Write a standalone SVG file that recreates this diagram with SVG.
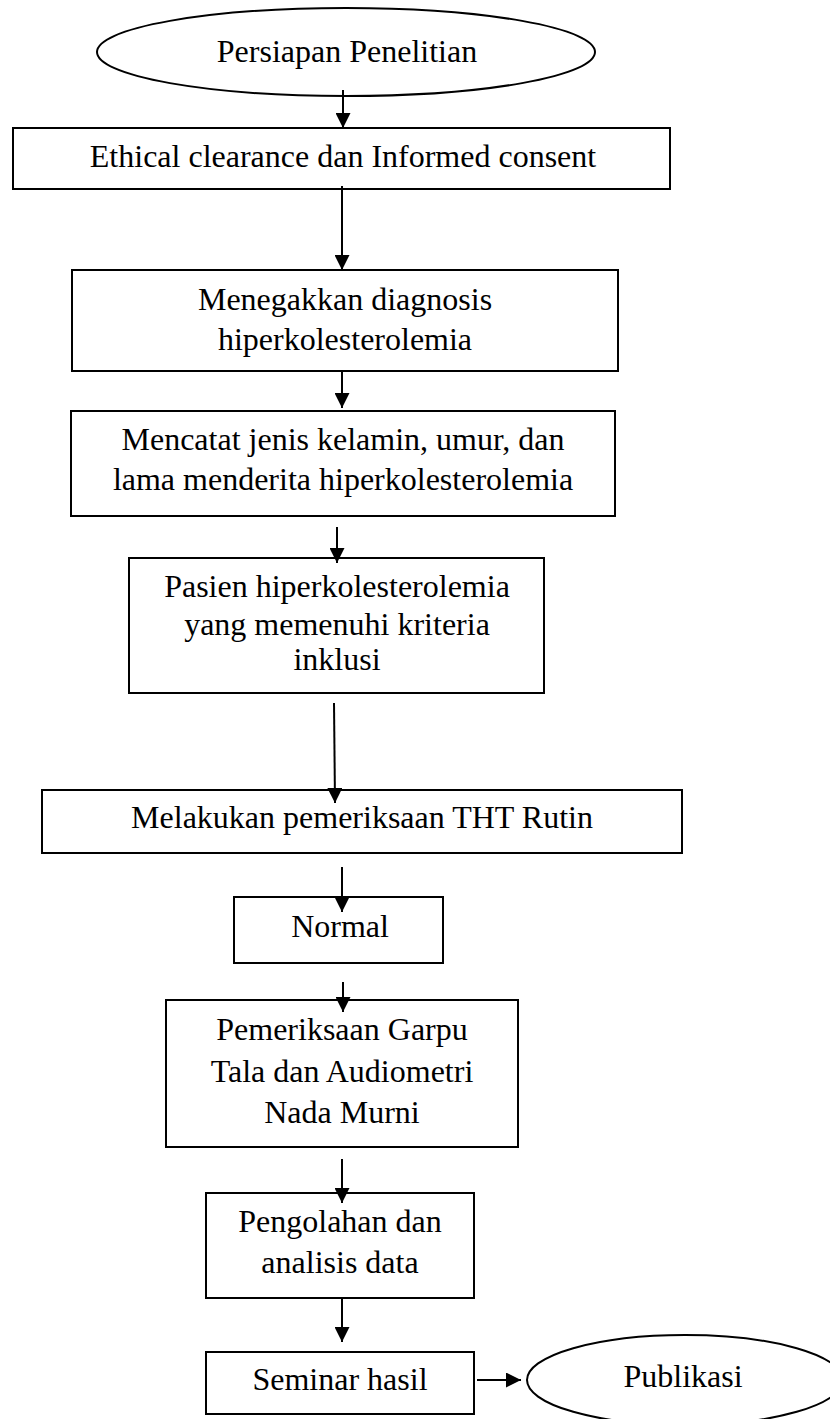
<svg xmlns="http://www.w3.org/2000/svg" width="830" height="1419" viewBox="0 0 830 1419">
<style>
.box{fill:#fff;stroke:#000;stroke-width:2}
.t{font-family:"Liberation Serif","Times New Roman",serif;font-size:32px;fill:#000;text-anchor:middle}
.c{stroke:#000;stroke-width:2;fill:none;marker-end:url(#ah)}
</style>
<defs>
<marker id="ah" markerUnits="userSpaceOnUse" markerWidth="15" markerHeight="15" viewBox="0 0 15 15" refX="15" refY="7.5" orient="auto">
<path d="M0,0 L15,7.5 L0,15 z" fill="#000"/>
</marker>
</defs>
<rect width="830" height="1419" fill="#fff"/>
<g id="n1"><ellipse class="box" cx="346" cy="52" rx="249" ry="44"/><text class="t" x="347" y="62">Persiapan Penelitian</text></g>
<g id="n2"><rect class="box" x="13" y="128" width="657" height="61"/><text class="t" x="343" y="167">Ethical clearance dan Informed consent</text></g>
<g id="n3"><rect class="box" x="72" y="270" width="546" height="101"/><text class="t" x="345" y="310">Menegakkan diagnosis</text><text class="t" x="345" y="350">hiperkolesterolemia</text></g>
<g id="n4"><rect class="box" x="71" y="411" width="544" height="105"/><text class="t" x="343" y="450">Mencatat jenis kelamin, umur, dan</text><text class="t" x="343" y="490">lama menderita hiperkolesterolemia</text></g>
<g id="n5"><rect class="box" x="129" y="558" width="415" height="135"/><text class="t" x="337" y="597">Pasien hiperkolesterolemia</text><text class="t" x="337" y="635">yang memenuhi kriteria</text><text class="t" x="337" y="670">inklusi</text></g>
<g id="n6"><rect class="box" x="42" y="790" width="640" height="63"/><text class="t" x="362" y="828">Melakukan pemeriksaan THT Rutin</text></g>
<g id="n7"><rect class="box" x="234" y="897" width="209" height="66"/><text class="t" x="340" y="937">Normal</text></g>
<g id="n8"><rect class="box" x="166" y="1000" width="352" height="147"/><text class="t" x="342" y="1040">Pemeriksaan Garpu</text><text class="t" x="342" y="1082">Tala dan Audiometri</text><text class="t" x="342" y="1123">Nada Murni</text></g>
<g id="n9"><rect class="box" x="206" y="1193" width="268" height="105"/><text class="t" x="340" y="1232">Pengolahan dan</text><text class="t" x="340" y="1273">analisis data</text></g>
<g id="n10"><rect class="box" x="206" y="1352" width="268" height="62"/><text class="t" x="340" y="1390">Seminar hasil</text></g>
<g id="n11"><ellipse class="box" cx="685" cy="1380" rx="158" ry="45"/><text class="t" x="683" y="1387">Publikasi</text></g>
<g id="connectors">
<line class="c" x1="343" y1="90" x2="343" y2="128"/>
<line class="c" x1="342" y1="186" x2="342" y2="270"/>
<line class="c" x1="342" y1="371" x2="342" y2="408"/>
<line class="c" x1="337" y1="527" x2="337" y2="563"/>
<line class="c" x1="334" y1="703" x2="335" y2="803"/>
<line class="c" x1="342" y1="867" x2="342" y2="912"/>
<line class="c" x1="343" y1="982" x2="343" y2="1012"/>
<line class="c" x1="342" y1="1159" x2="342" y2="1203"/>
<line class="c" x1="342" y1="1298" x2="342" y2="1342"/>
<line class="c" x1="477" y1="1380" x2="521" y2="1380"/>
</g>
</svg>
